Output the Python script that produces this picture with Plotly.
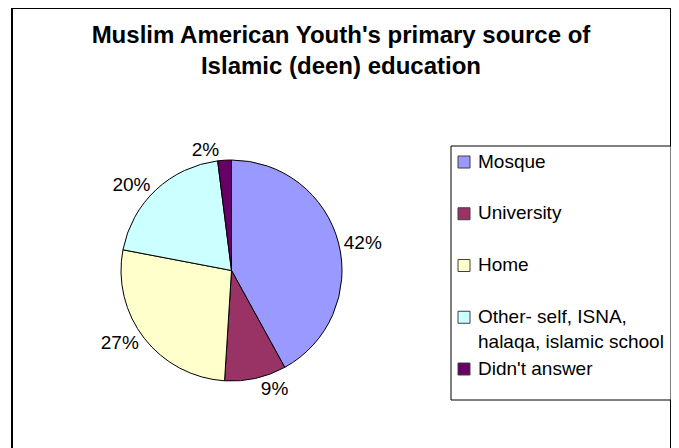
import plotly.graph_objects as go

# The page body adds an 8 px margin, so the figure is 8 px smaller than the window
W, H = 671, 440
OFF = 8


def px(x):
    return (x - OFF) / W


def py(y):
    return 1 - (y - OFF) / H


title_lines = ["Muslim American Youth's primary source of", "Islamic (deen) education"]
categories = ["Mosque", "University", "Home", "Other- self, ISNA,<br>halaqa, islamic school", "Didn't answer"]
shares = [42, 9, 27, 20, 2]
colors = ["#9999FF", "#993366", "#FFFFCC", "#CCFFFF", "#660066"]

FONT = "Arial, Liberation Sans, sans-serif"
LEG_FS = 19

fig = go.Figure(go.Pie(
    labels=categories,
    values=shares,
    sort=False,
    direction="clockwise",
    rotation=0,
    marker=dict(colors=colors, line=dict(color="black", width=1)),
    textinfo="percent",
    textposition="outside",
    outsidetextfont=dict(family=FONT, size=19, color="black"),
    domain=dict(x=[px(121), px(342)], y=[py(381), py(160)]),
    hoverinfo="label+percent",
    showlegend=False,
))

# legend drawn as a boxed list beside the pie (Excel-style spacing)
shapes = [
    # outer chart border
    dict(type="rect", xref="paper", yref="paper",
         x0=px(12), x1=px(671), y0=-0.1, y1=1.0,
         line=dict(color="black", width=2), layer="below"),
    # legend box
    dict(type="rect", xref="paper", yref="paper",
         x0=px(451), x1=px(671), y0=py(400), y1=py(146),
         line=dict(color="black", width=1), fillcolor="white", layer="below"),
]
annotations = []
first_y = 162
step = 51.75
for i, (lab, col) in enumerate(zip(categories, colors)):
    yc = first_y + step * i
    shapes.append(dict(type="rect", xref="paper", yref="paper",
                       x0=px(458), x1=px(470), y0=py(yc + 6), y1=py(yc - 6),
                       line=dict(color="#404040", width=1), fillcolor=col))
    annotations.append(dict(xref="paper", yref="paper",
                            x=px(476), y=py(yc - 0.65 * LEG_FS - 1),
                            xanchor="left", yanchor="top", align="left",
                            text=lab, showarrow=False,
                            font=dict(family=FONT, size=LEG_FS, color="black")))

fig.update_layout(
    width=W, height=H,
    margin=dict(l=0, r=0, t=0, b=0),
    paper_bgcolor="white",
    plot_bgcolor="white",
    font=dict(family=FONT, color="black"),
    title=dict(
        text="<b>" + "<br>".join(title_lines) + "</b>",
        x=px(341), xanchor="center",
        y=py(43), yanchor="top",
        font=dict(family=FONT, size=24, color="black"),
    ),
    shapes=shapes,
    annotations=annotations,
)

fig.write_html("out.html")
